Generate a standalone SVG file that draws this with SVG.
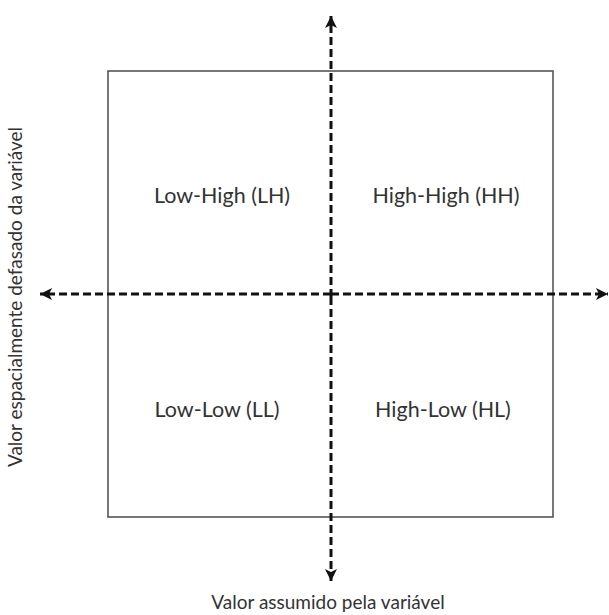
<svg xmlns="http://www.w3.org/2000/svg" width="609" height="615" viewBox="0 0 609 615">
<style>
.lbl{font-family:Lato,"Open Sans","Liberation Sans",sans-serif;font-size:21.5px;fill:#333;text-anchor:middle}
.ax{font-family:Lato,"Open Sans","Liberation Sans",sans-serif;font-size:19px;fill:#333;text-anchor:middle}
.arr{stroke:#111;stroke-width:3;stroke-dasharray:8 4;fill:none}
</style>
<defs>
<marker id="ah" markerUnits="userSpaceOnUse" markerWidth="14" markerHeight="14" refX="12" refY="6" orient="auto">
<path d="M0,0 L12,6 L0,12 L3,6 Z" fill="#111"/>
</marker>
</defs>
<rect width="609" height="615" fill="#fff"/>
<g id="frame"><rect x="108" y="71" width="445" height="446" fill="none" stroke="#555" stroke-width="1.6"/></g>
<g id="connectors">
<line class="arr" x1="331" y1="297" x2="331" y2="16" marker-end="url(#ah)"/>
<line class="arr" x1="331" y1="297" x2="331" y2="581" marker-end="url(#ah)"/>
<line class="arr" x1="331" y1="294" x2="40" y2="294" marker-end="url(#ah)"/>
<line class="arr" x1="331" y1="294" x2="608" y2="294" marker-end="url(#ah)"/>
</g>
<g id="lh"><text class="lbl" x="222" y="203">Low-High (LH)</text></g>
<g id="hh"><text class="lbl" x="446" y="203">High-High (HH)</text></g>
<g id="ll"><text class="lbl" x="217" y="417">Low-Low (LL)</text></g>
<g id="hl"><text class="lbl" x="443" y="417">High-Low (HL)</text></g>
<g id="xlabel"><text class="ax" x="328" y="609">Valor assumido pela variável</text></g>
<g id="ylabel"><text class="ax" transform="translate(22,297) rotate(-90)">Valor espacialmente defasado da variável</text></g>
</svg>
